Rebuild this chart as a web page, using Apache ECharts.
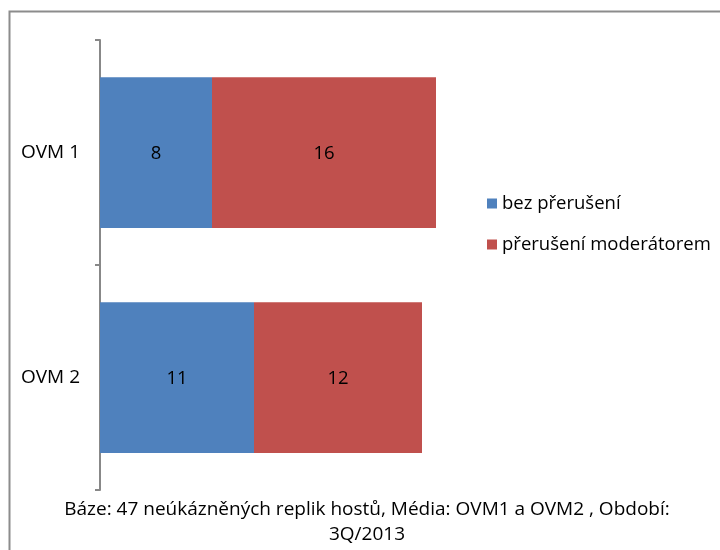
<!DOCTYPE html>
<html><head><meta charset="utf-8">
<script src="https://cdn.jsdelivr.net/npm/echarts@6/dist/echarts.min.js"></script>
<style>html,body{margin:0;padding:0;background:#fff}#c{width:720px;height:550px}</style>
</head><body><div id="c"></div>
<script>
const categories = ['OVM 1', 'OVM 2'];
const seriesNames = ['bez přerušení', 'přerušení moderátorem'];
const bezPreruseni = [8, 11];
const preruseniModeratorem = [16, 12];
const footer = 'Báze: 47 neúkázněných replik hostů, Média: OVM1 a OVM2 , Období:\n3Q/2013';

const font = '"Open Sans", sans-serif';
const chart = echarts.init(document.getElementById('c'), null, {renderer: 'canvas'});
const labelCfg = {show: true, position: 'inside', offset: [0, 1], color: '#000', fontSize: 18.5, fontFamily: font};
chart.setOption({
  animation: false,
  backgroundColor: '#fff',
  graphic: [{
    type: 'rect', shape: {x: 9.5, y: 11.5, width: 800, height: 600},
    style: {fill: 'none', stroke: '#8c8c8c', lineWidth: 2}, silent: true, z: -1
  }],
  title: {
    text: footer, left: 362, top: 492, textAlign: 'center',
    textStyle: {fontSize: 19, fontWeight: 'normal', color: '#000', fontFamily: font, lineHeight: 25}
  },
  legend: {
    orient: 'vertical', left: 482, top: 189, itemWidth: 10, itemHeight: 10, itemGap: 22,
    icon: 'rect',
    textStyle: {fontSize: 18.5, color: '#000', fontFamily: font},
    data: seriesNames
  },
  grid: {left: 100, top: 40, width: 420, height: 450, containLabel: false},
  xAxis: {
    type: 'value', min: 0, max: 30, show: false
  },
  yAxis: {
    type: 'category', data: categories, inverse: true,
    axisLine: {show: true, lineStyle: {color: '#888', width: 2}},
    axisTick: {show: true, length: 5, lineStyle: {color: '#888', width: 2}},
    axisLabel: {fontSize: 19, color: '#000', fontFamily: font, margin: 20}
  },
  series: [
    {name: seriesNames[0], type: 'bar', stack: 's', data: bezPreruseni, barCategoryGap: '33%',
     itemStyle: {color: '#4F81BD'}, label: labelCfg},
    {name: seriesNames[1], type: 'bar', stack: 's', data: preruseniModeratorem, barCategoryGap: '33%',
     itemStyle: {color: '#C0504D'}, label: labelCfg}
  ]
});
</script></body></html>
